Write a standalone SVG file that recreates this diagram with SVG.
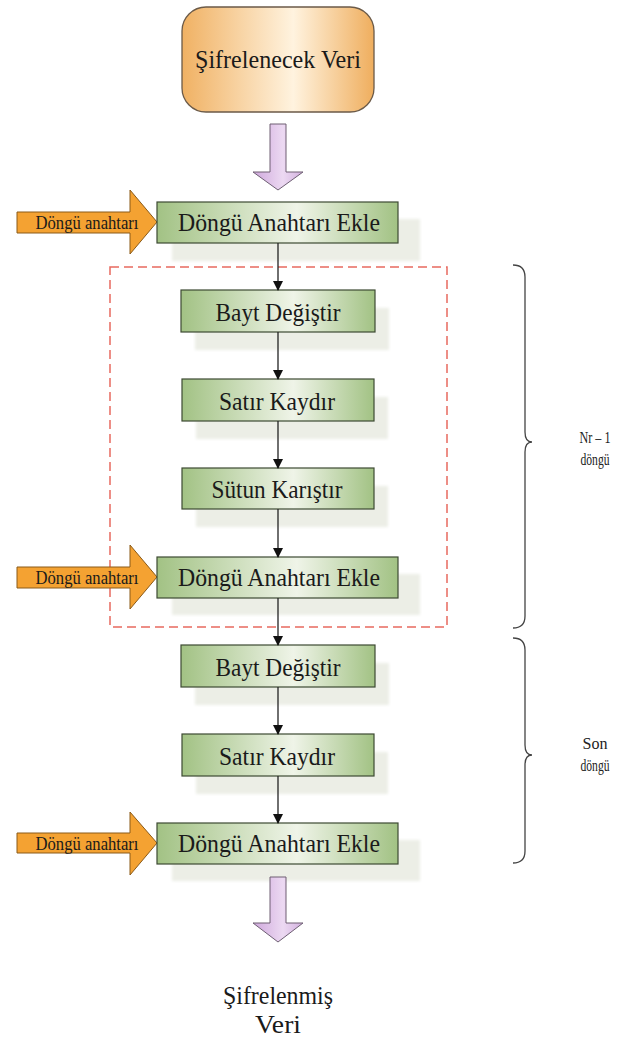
<svg xmlns="http://www.w3.org/2000/svg" width="619" height="1038" viewBox="0 0 619 1038">
<defs>
<linearGradient id="gGreen" x1="0" y1="0" x2="1" y2="0">
<stop offset="0" stop-color="#a2c284"/>
<stop offset="0.58" stop-color="#eff4e8"/>
<stop offset="1" stop-color="#a2c284"/>
</linearGradient>
<linearGradient id="gOrange" x1="0" y1="0" x2="1" y2="0">
<stop offset="0" stop-color="#f0b163"/>
<stop offset="0.58" stop-color="#fff3df"/>
<stop offset="1" stop-color="#efae5e"/>
</linearGradient>
<linearGradient id="gPurple" x1="0" y1="0" x2="1" y2="0">
<stop offset="0" stop-color="#cfa8dc"/>
<stop offset="0.6" stop-color="#ecd9f2"/>
<stop offset="1" stop-color="#d2b0de"/>
</linearGradient>
<marker id="ah" markerWidth="10" markerHeight="10" refX="9" refY="5" orient="auto" markerUnits="userSpaceOnUse">
<path d="M0,0 L10,5 L0,10 Z" fill="#111"/>
</marker>
<filter id="soft" x="-10%" y="-20%" width="120%" height="140%"><feGaussianBlur stdDeviation="1.5"/></filter>
</defs>
<style>
.box{fill:url(#gGreen);stroke:#3d4a33;stroke-width:1.2}
.shadow{fill:#eceee6;filter:url(#soft)}
text{font-family:'Liberation Serif','DejaVu Serif',serif}
.lbl{font-size:26px;fill:#1a1a1a;text-anchor:middle}
.small{font-size:18px;fill:#1a1a1a;text-anchor:middle}
.side{font-size:16px;fill:#222;text-anchor:middle}
.oarrow{fill:#f4a232;stroke:#8a5a18;stroke-width:1}
.parrow{fill:url(#gPurple);stroke:#6e5f73;stroke-width:1}
.conn{stroke:#222;stroke-width:1.3;fill:none;marker-end:url(#ah)}
.brace{stroke:#444;stroke-width:1.3;fill:none}
</style>
<rect width="619" height="1038" fill="#ffffff"/>

<g id="shadows">
<rect class="shadow" x="172" y="219" width="248" height="42"/>
<rect class="shadow" x="195" y="308" width="194" height="42"/>
<rect class="shadow" x="196" y="397" width="192" height="42"/>
<rect class="shadow" x="196" y="486" width="192" height="41"/>
<rect class="shadow" x="172" y="574" width="248" height="41"/>
<rect class="shadow" x="195" y="663" width="194" height="42"/>
<rect class="shadow" x="196" y="752" width="192" height="42"/>
<rect class="shadow" x="172" y="840" width="248" height="41"/>
</g>

<g id="loop-frame">
<rect x="110" y="267" width="337" height="360" fill="none" stroke="#e8695f" stroke-width="1.5" stroke-dasharray="9,5"/>
</g>

<g id="input">
<rect x="182" y="7" width="192" height="105" rx="24" ry="24" fill="url(#gOrange)" stroke="#6b5a48" stroke-width="1.3"/>
<text class="lbl" x="278" y="68" textLength="166" lengthAdjust="spacingAndGlyphs">Şifrelenecek Veri</text>
</g>

<g id="arrow-in">
<path class="parrow" d="M270,124 L286,124 L286,172 L303,172 L278,190 L253,172 L270,172 Z"/>
</g>

<g id="key1">
<path class="oarrow" d="M17,212 L130,212 L130,190 L157,222 L130,254 L130,233 L17,233 Z"/>
<text class="small" x="87" y="229" textLength="103" lengthAdjust="spacingAndGlyphs">Döngü anahtarı</text>
</g>
<g id="addkey1">
<rect class="box" x="157" y="202" width="241" height="41"/>
<text class="lbl" x="279" y="231" textLength="202" lengthAdjust="spacingAndGlyphs">Döngü Anahtarı Ekle</text>
</g>

<g id="subbytes1">
<rect class="box" x="181" y="290" width="194" height="42"/>
<text class="lbl" x="278" y="321" textLength="125" lengthAdjust="spacingAndGlyphs">Bayt Değiştir</text>
</g>
<g id="shiftrows1">
<rect class="box" x="182" y="379" width="192" height="42"/>
<text class="lbl" x="277" y="410" textLength="116" lengthAdjust="spacingAndGlyphs">Satır Kaydır</text>
</g>
<g id="mixcolumns">
<rect class="box" x="182" y="468" width="192" height="41"/>
<text class="lbl" x="277" y="498" textLength="131" lengthAdjust="spacingAndGlyphs">Sütun Karıştır</text>
</g>

<g id="key2">
<path class="oarrow" d="M17,567 L130,567 L130,545 L157,577 L130,609 L130,588 L17,588 Z"/>
<text class="small" x="87" y="584" textLength="103" lengthAdjust="spacingAndGlyphs">Döngü anahtarı</text>
</g>
<g id="addkey2">
<rect class="box" x="157" y="557" width="241" height="41"/>
<text class="lbl" x="279" y="586" textLength="202" lengthAdjust="spacingAndGlyphs">Döngü Anahtarı Ekle</text>
</g>

<g id="subbytes2">
<rect class="box" x="181" y="645" width="194" height="42"/>
<text class="lbl" x="278" y="676" textLength="125" lengthAdjust="spacingAndGlyphs">Bayt Değiştir</text>
</g>
<g id="shiftrows2">
<rect class="box" x="182" y="734" width="192" height="42"/>
<text class="lbl" x="277" y="765" textLength="116" lengthAdjust="spacingAndGlyphs">Satır Kaydır</text>
</g>

<g id="key3">
<path class="oarrow" d="M17,833 L130,833 L130,812 L157,843 L130,875 L130,853 L17,853 Z"/>
<text class="small" x="87" y="850" textLength="103" lengthAdjust="spacingAndGlyphs">Döngü anahtarı</text>
</g>
<g id="addkey3">
<rect class="box" x="157" y="823" width="241" height="41"/>
<text class="lbl" x="279" y="852" textLength="202" lengthAdjust="spacingAndGlyphs">Döngü Anahtarı Ekle</text>
</g>

<g id="arrow-out">
<path class="parrow" d="M270,877 L286,877 L286,923 L303,923 L278,942 L253,923 L270,923 Z"/>
</g>

<g id="output">
<text class="lbl" x="278" y="1004" textLength="110" lengthAdjust="spacingAndGlyphs">Şifrelenmiş</text>
<text class="lbl" x="278" y="1033" textLength="46" lengthAdjust="spacingAndGlyphs">Veri</text>
</g>

<g id="connectors">
<line class="conn" x1="278" y1="243" x2="278" y2="290"/>
<line class="conn" x1="278" y1="332" x2="278" y2="379"/>
<line class="conn" x1="278" y1="421" x2="278" y2="468"/>
<line class="conn" x1="278" y1="509" x2="278" y2="557"/>
<line class="conn" x1="278" y1="598" x2="278" y2="645"/>
<line class="conn" x1="278" y1="687" x2="278" y2="734"/>
<line class="conn" x1="278" y1="776" x2="278" y2="823"/>
</g>

<g id="brace-rounds">
<path class="brace" d="M513,265 Q525,265 525,277 L525,432 Q525,442 532,442 Q525,442 525,452 L525,616 Q525,628 513,628"/>
<text class="side" x="595" y="443" textLength="31" lengthAdjust="spacingAndGlyphs">Nr – 1</text>
<text class="side" x="595" y="465" textLength="29" lengthAdjust="spacingAndGlyphs">döngü</text>
</g>

<g id="brace-final">
<path class="brace" d="M513,638 Q525,638 525,650 L525,745 Q525,755 532,755 Q525,755 525,765 L525,851 Q525,863 513,863"/>
<text class="side" x="595" y="749" textLength="25" lengthAdjust="spacingAndGlyphs">Son</text>
<text class="side" x="595" y="771" textLength="29" lengthAdjust="spacingAndGlyphs">döngü</text>
</g>
</svg>
